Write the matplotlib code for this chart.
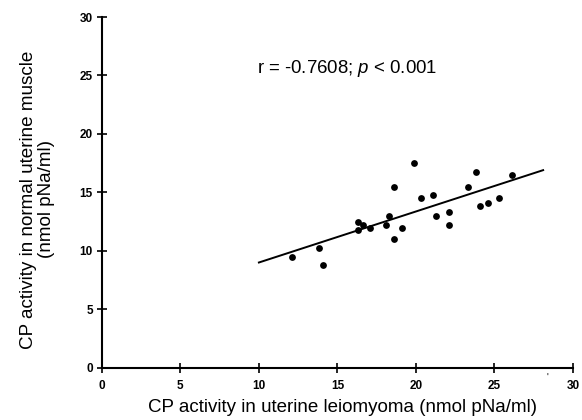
import numpy as np
import matplotlib
matplotlib.use("Agg")
import matplotlib.pyplot as plt

plt.rcParams['font.family'] = ['Liberation Sans', 'DejaVu Sans']
plt.rcParams['mathtext.fontset'] = 'custom'
plt.rcParams['mathtext.rm'] = 'Liberation Sans'
plt.rcParams['mathtext.it'] = 'Liberation Sans:italic'

# CP activity in leiomyoma (x) vs normal muscle (y), nmol pNa/ml
leiomyoma = [12.1, 13.8, 14.1, 16.3, 16.3, 16.6, 17.1, 18.1, 18.3, 18.6, 18.6,
             19.1, 19.9, 20.3, 21.1, 21.3, 22.1, 22.1, 23.3, 23.8, 24.1, 24.6,
             25.3, 26.1]
normal = [9.45, 10.2, 8.8, 12.5, 11.75, 12.2, 11.95, 12.25, 13.0, 15.5, 11.0,
          11.95, 17.5, 14.55, 14.8, 13.0, 13.3, 12.25, 15.5, 16.7, 13.8, 14.05,
          14.55, 16.5]

# regression line end points
fit_x = [10.0, 28.1]
fit_y = [9.0, 16.9]

ticks = [0, 5, 10, 15, 20, 25, 30]

fig = plt.figure(figsize=(5.82, 4.2), dpi=100)
ax = fig.add_axes([0.175, 0.1245, 0.8095, 0.835])

ax.scatter(leiomyoma, normal, s=24, color='black', zorder=3, linewidths=0)
ax.plot(fit_x, fit_y, color='black', lw=1.4)

ax.set_xlim(0, 30)
ax.set_ylim(0, 30)
ax.set_xticks(ticks)
ax.set_yticks(ticks)
ax.spines['top'].set_visible(False)
ax.spines['right'].set_visible(False)
ax.spines['left'].set_linewidth(1.5)
ax.spines['bottom'].set_linewidth(1.5)
ax.tick_params(direction='inout', length=7, width=1.2, labelsize=8.5)
ax.tick_params(axis='x', pad=5)
ax.tick_params(axis='y', pad=3)
for lab in ax.get_xticklabels() + ax.get_yticklabels():
    lab.set_fontweight('bold')

ax.text(9.9, 25.6, 'r = -0.7608; $p$ < 0.001', fontsize=13.4, va='center', ha='left')

ax.set_xlabel('CP activity in uterine leiomyoma (nmol pNa/ml)', fontsize=13.5)
ax.xaxis.set_label_coords(0.51, -0.088)
ax.set_ylabel('CP activity in normal uterine muscle\n(nmol pNa/ml)', fontsize=13.6,
              linespacing=1.05)
ax.yaxis.set_label_coords(-0.10, 0.48)

# small speck under the axis near 28
ax.text(28.4, -0.85, "'", fontsize=7, ha='center', va='center')

fig.savefig('out.png', dpi=100)
